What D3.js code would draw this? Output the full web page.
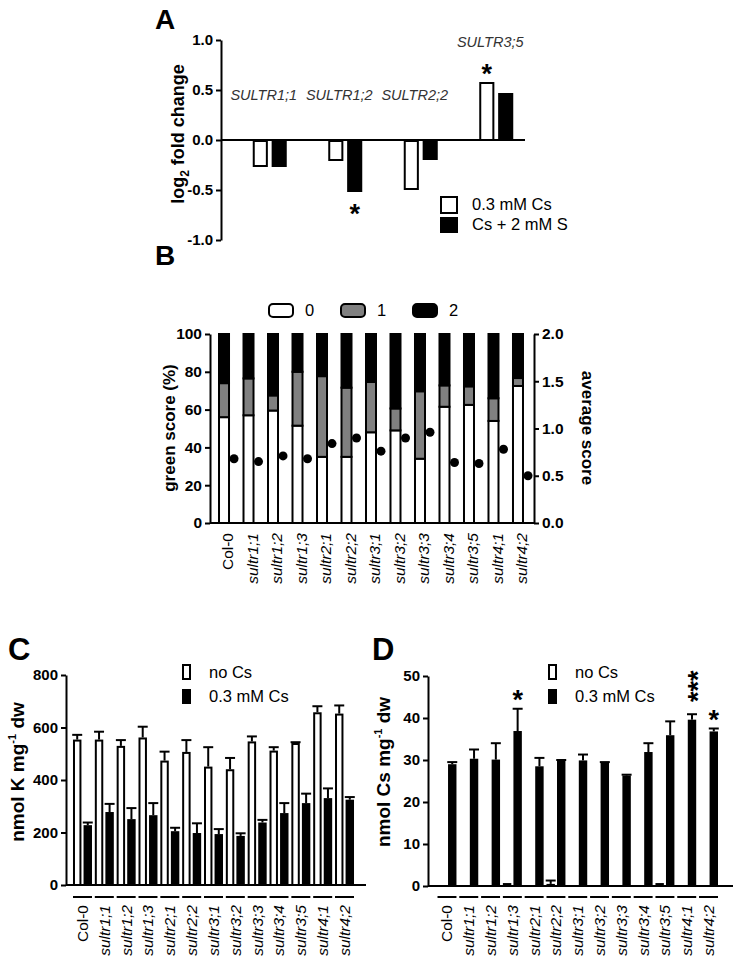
<!DOCTYPE html>
<html><head><meta charset="utf-8">
<script src="https://cdn.jsdelivr.net/npm/d3@7"></script>
<style>body{margin:0;background:#fff} svg{display:block} text{font-family:"Liberation Sans",Arial,sans-serif}</style>
</head><body><svg id="c" width="738" height="965"></svg>
<script>
// ---------- Panel A data ----------
const genesA = ["SULTR1;1", "SULTR1;2", "SULTR2;2", "SULTR3;5"];
const seriesA = ["0.3 mM Cs", "Cs + 2 mM S"];
const fcCs = [-0.26, -0.20, -0.49, 0.58];
const fcCsS = [-0.27, -0.52, -0.20, 0.47];
const sigCs = ["", "", "", "*"];
const sigCsS = ["", "*", "", ""];
const ticksA = [-1, -0.5, 0, 0.5, 1];

// ---------- Panel B data ----------
const lines = ["Col-0", "sultr1;1", "sultr1;2", "sultr1;3", "sultr2;1", "sultr2;2", "sultr3;1", "sultr3;2", "sultr3;3", "sultr3;4", "sultr3;5", "sultr4;1", "sultr4;2"];
const scoreKeys = ["0", "1", "2"];
const score0 = [56, 57, 59.5, 51.5, 35, 35, 48, 49, 34, 61.5, 62.5, 54, 72.5];
const score1 = [18, 19.5, 8, 28.5, 42.7, 36.6, 26.6, 11.6, 35.7, 11.3, 9.8, 12, 4.2];
const score2 = [26, 23.5, 32.5, 20, 22.3, 28.4, 25.4, 39.4, 30.3, 27.2, 27.7, 34, 23.3];
const avgScore = [0.68, 0.65, 0.71, 0.68, 0.84, 0.90, 0.76, 0.90, 0.96, 0.64, 0.63, 0.78, 0.50];
const ticksB = [0, 20, 40, 60, 80, 100];
const ticksB2 = [0, 0.5, 1, 1.5, 2];

// ---------- Panel C data ----------
const seriesCD = ["no Cs", "0.3 mM Cs"];
const kNoCs = [554, 554, 530, 562, 474, 507, 451, 441, 547, 512, 541, 658, 653];
const kNoCsErr = [18, 30, 22, 41, 34, 45, 74, 43, 19, 13, 3, 23, 31];
const kCs = [228, 278, 251, 266, 205, 198, 194, 187, 238, 274, 312, 331, 325];
const kCsErr = [10, 31, 42, 46, 13, 37, 19, 10, 10, 38, 36, 37, 10];
const ticksC = [0, 200, 400, 600, 800];

// ---------- Panel D data ----------
const csNoCs = [0, 0, 0, 0.7, 0, 0.5, 0, 0, 0, 0, 0.7, 0, 0];
const csNoCsErr = [0, 0, 0, 0, 0, 0.8, 0, 0, 0, 0, 0, 0, 0];
const csCs = [29, 30.3, 30.1, 36.9, 28.5, 29.8, 29.9, 29.3, 26.3, 31.9, 35.9, 39.6, 36.8];
const csCsErr = [0.5, 2.2, 3.9, 5.3, 2.0, 0.2, 1.4, 0.2, 0.2, 2.1, 3.3, 1.3, 0.7];
const sigD = ["", "", "", "*", "", "", "", "", "", "", "", "***", "*"];
const ticksD = [0, 10, 20, 30, 40, 50];

const FONT = '"Liberation Sans", Arial, sans-serif';
const svg = d3.select("#c");
svg.append("rect").attr("width", 738).attr("height", 965).attr("fill", "#fff");

function styleAxis(g, fs) {
  g.select(".domain").attr("stroke-width", 2).attr("stroke", "#000");
  g.selectAll(".tick line").attr("stroke-width", 2).attr("stroke", "#000");
  g.selectAll(".tick text").attr("font-size", fs).attr("font-weight", "bold")
    .attr("font-family", FONT).attr("fill", "#000");
}
function star(g, x, cy, txt, fs) {
  g.append("text").attr("x", x).attr("y", cy).attr("dy", "0.57em")
    .attr("text-anchor", "middle").attr("font-size", fs).attr("font-weight", "bold").text(txt);
}
function openRect(g, x, y0, y1, w) {
  const top = Math.min(y0, y1), h = Math.abs(y1 - y0);
  g.append("rect").attr("x", x + 1).attr("y", top + 1).attr("width", Math.max(0, w - 2))
    .attr("height", Math.max(0, h - 1)).attr("fill", "#fff").attr("stroke", "#000").attr("stroke-width", 2);
}
function fmt1(d) { return d.toFixed(1); }

// ================= PANEL A =================
{
  const g = svg.append("g");
  const y = d3.scaleLinear([-1, 1], [240, 40]);
  const x = d3.scaleBand(genesA, [232, 534]);
  const sub = d3.scaleBand([0, 1], [-17, 17]).paddingInner(0.2);
  const bw = sub.bandwidth();
  const ax = g.append("g").attr("transform", "translate(221,0)")
    .call(d3.axisLeft(y).tickValues(ticksA).tickFormat(fmt1).tickSize(5).tickSizeOuter(0).tickPadding(3));
  styleAxis(ax, 15);
  g.append("line").attr("x1", 221).attr("x2", 525).attr("y1", y(0)).attr("y2", y(0))
    .attr("stroke", "#000").attr("stroke-width", 2);
  genesA.forEach((gene, i) => {
    const c = x(gene) + x.bandwidth() / 2;
    const xo = c + sub(0);
    openRect(g, xo, y(0), y(fcCs[i]), bw);
    const xb = c + sub(1);
    g.append("rect").attr("x", xb).attr("width", bw)
      .attr("y", Math.min(y(0), y(fcCsS[i]))).attr("height", Math.abs(y(fcCsS[i]) - y(0))).attr("fill", "#000");
    if (sigCs[i]) {
      const v = fcCs[i];
      star(g, xo + bw / 2, v > 0 ? y(v) - 14 : y(v) + 16, sigCs[i], 27);
    }
    if (sigCsS[i]) {
      const v = fcCsS[i];
      star(g, xb + bw / 2, v > 0 ? y(v) - 14 : y(v) + 16, sigCsS[i], 27);
    }
    const pos = Math.max(fcCs[i], fcCsS[i]) > 0;
    g.append("text").attr("x", c - 6).attr("y", pos ? y(0.93) : y(0.4))
      .attr("text-anchor", "middle").attr("font-size", 14.5).attr("font-style", "italic")
      .attr("fill", "#333").text(gene);
  });
  g.append("text").attr("transform", "translate(184,134) rotate(-90)")
    .attr("text-anchor", "middle").attr("font-size", 18).attr("font-weight", "bold")
    .call(t => {
      t.append("tspan").text("log");
      t.append("tspan").attr("font-size", 12).attr("dy", 5).text("2");
      t.append("tspan").attr("dy", -5).text(" fold change");
    });
  const lg = g.append("g");
  seriesA.forEach((s, i) => {
    const yy = 197 + i * 20;
    if (i === 0) openRect(lg, 440, yy + 16, yy - 1, 18);
    else lg.append("rect").attr("x", 440).attr("y", yy).attr("width", 18).attr("height", 16).attr("fill", "#000");
    lg.append("text").attr("x", 472).attr("y", yy + 13).attr("font-size", 16.5).text(s);
  });
  g.append("text").attr("x", 155).attr("y", 29).attr("font-size", 28).attr("font-weight", "bold").text("A");
}

// ================= PANEL B =================
{
  const g = svg.append("g");
  const y = d3.scaleLinear([0, 100], [523, 334]);
  const y2 = d3.scaleLinear([0, 2], [523, 334]);
  const x = d3.scaleBand(lines, [210, 532]).paddingInner(0.51).paddingOuter(0.327);
  const bw = x.bandwidth();
  const rows = lines.map((l, i) => ({ line: l, "0": score0[i], "1": score1[i], "2": score2[i] }));
  const stack = d3.stack().keys(scoreKeys)(rows);
  const fills = { "0": "#fff", "1": "#808080", "2": "#000" };
  lines.forEach((l, i) => {
    g.append("circle").attr("cx", x(l) + bw + 4).attr("cy", y2(avgScore[i])).attr("r", 4.5).attr("fill", "#000");
  });
  stack.forEach(layer => {
    layer.forEach((d, i) => {
      const top = y(d[1]), bot = y(d[0]);
      g.append("rect").attr("x", x(lines[i]) + 1).attr("y", top).attr("width", bw - 2)
        .attr("height", Math.max(0, bot - top))
        .attr("fill", fills[layer.key]).attr("stroke", "#000").attr("stroke-width", 2);
    });
  });
  const al = g.append("g").attr("transform", "translate(210,0)")
    .call(d3.axisLeft(y).tickValues(ticksB).tickSize(5).tickSizeOuter(0).tickPadding(3));
  styleAxis(al, 15.5);
  const ar = g.append("g").attr("transform", "translate(534,0)")
    .call(d3.axisRight(y2).tickValues(ticksB2).tickFormat(fmt1).tickSize(5).tickSizeOuter(0).tickPadding(3));
  styleAxis(ar, 15.5);
  g.append("line").attr("x1", 210).attr("x2", 534).attr("y1", 523).attr("y2", 523).attr("stroke", "#000").attr("stroke-width", 2);
  lines.forEach(l => {
    g.append("text").attr("transform", `translate(${x(l) + bw / 2 + 4},533) rotate(-90)`)
      .attr("dy", "0.35em").attr("text-anchor", "end").attr("font-size", 15.5)
      .attr("font-style", l.startsWith("sultr") ? "italic" : "normal").text(l);
  });
  g.append("text").attr("transform", "translate(175,428) rotate(-90)").attr("text-anchor", "middle")
    .attr("font-size", 17).attr("font-weight", "bold").text("green score (%)");
  g.append("text").attr("transform", "translate(582,428) rotate(90)").attr("text-anchor", "middle")
    .attr("font-size", 17).attr("font-weight", "bold").text("average score");
  scoreKeys.forEach((k, i) => {
    const lx = 268 + i * 72;
    g.append("rect").attr("x", lx + 1).attr("y", 304).attr("width", 24).attr("height", 13).attr("rx", 4)
      .attr("fill", fills[k]).attr("stroke", "#000").attr("stroke-width", 2);
    g.append("text").attr("x", lx + 37).attr("y", 316).attr("font-size", 16.5).text(k);
  });
  g.append("text").attr("x", 155).attr("y", 265).attr("font-size", 28).attr("font-weight", "bold").text("B");
}

// ================= PANELS C & D =================
function groupedPanel(opt) {
  const g = svg.append("g");
  const y = d3.scaleLinear([0, opt.max], [opt.y0, opt.y1]);
  const x = d3.scaleBand(lines, [opt.ax, opt.xr]).paddingInner(0.13).paddingOuter(opt.po);
  const sub = d3.scaleBand([0, 1], [0, x.bandwidth()]).paddingInner(0.2);
  const bw = sub.bandwidth();
  lines.forEach((l, i) => {
    const xo = x(l) + sub(0), xb = x(l) + sub(1);
    [[xo, opt.a[i], opt.ae[i]], [xb, opt.b[i], opt.be[i]]].forEach(([xx, v, e]) => {
      if (e > 0) {
        const cx = xx + bw / 2;
        g.append("line").attr("x1", cx).attr("x2", cx).attr("y1", y(v)).attr("y2", y(v + e)).attr("stroke", "#000").attr("stroke-width", 2);
        g.append("line").attr("x1", cx - 5).attr("x2", cx + 5).attr("y1", y(v + e)).attr("y2", y(v + e)).attr("stroke", "#000").attr("stroke-width", 2);
      }
    });
    if (opt.a[i] > 0) openRect(g, xo, y(0), y(opt.a[i]), bw);
    g.append("rect").attr("x", xb).attr("width", bw).attr("y", y(opt.b[i])).attr("height", y(0) - y(opt.b[i])).attr("fill", "#000");
    if (opt.sig && opt.sig[i]) {
      const top = y(opt.b[i] + opt.be[i]);
      const s = opt.sig[i];
      if (s.length === 1) star(g, xb + bw / 2, top - 15, s, 27);
      else g.append("text").attr("transform", `translate(${xb + bw / 2},${top - 28}) rotate(-90)`)
        .attr("dy", "0.57em").attr("text-anchor", "middle").attr("font-size", 27).attr("font-weight", "bold").text(s);
    }
    g.append("line").attr("x1", x(l)).attr("x2", x(l) + x.bandwidth()).attr("y1", 897).attr("y2", 897).attr("stroke", "#000").attr("stroke-width", 2);
    g.append("text").attr("transform", `translate(${x(l) + x.bandwidth() / 2},905) rotate(-90)`)
      .attr("dy", "0.35em").attr("text-anchor", "end").attr("font-size", 15.5)
      .attr("font-style", l.startsWith("sultr") ? "italic" : "normal").text(l);
  });
  const al = g.append("g").attr("transform", `translate(${opt.ax},0)`)
    .call(d3.axisLeft(y).tickValues(opt.ticks).tickSize(5).tickSizeOuter(0).tickPadding(3));
  styleAxis(al, 15);
  g.append("line").attr("x1", opt.ax).attr("x2", opt.xend).attr("y1", y(0)).attr("y2", y(0)).attr("stroke", "#000").attr("stroke-width", 2);
  g.append("text").attr("transform", `translate(${opt.lx},772) rotate(-90)`).attr("text-anchor", "middle")
    .attr("font-size", 19).attr("font-weight", "bold")
    .call(t => {
      t.append("tspan").text(opt.unit + " mg");
      t.append("tspan").attr("font-size", 11).attr("dy", -8).text("-1");
      t.append("tspan").attr("dy", 8).text(" dw");
    });
  seriesCD.forEach((s, i) => {
    const yy = opt.legY + i * 24;
    if (i === 0) openRect(g, opt.legX, yy + 14, yy - 1, 9);
    else g.append("rect").attr("x", opt.legX).attr("y", yy).attr("width", 9).attr("height", 15).attr("fill", "#000");
    g.append("text").attr("x", opt.legX + 27).attr("y", yy + 13).attr("font-size", 16.5).text(s);
  });
  g.append("text").attr("x", opt.px).attr("y", 660).attr("font-size", 31).attr("font-weight", "bold").text(opt.letter);
}

groupedPanel({ max: 800, y0: 885, y1: 675, ax: 66, xr: 361, po: 0.32, xend: 366, a: kNoCs, ae: kNoCsErr, b: kCs, be: kCsErr,
  ticks: ticksC, unit: "nmol K", lx: 24, legX: 182, legY: 665, letter: "C", px: 8 });
groupedPanel({ max: 50, y0: 886, y1: 676, ax: 428, xr: 727.5, po: 0.436, xend: 733, a: csNoCs, ae: csNoCsErr, b: csCs, be: csCsErr,
  ticks: ticksD, unit: "nmol Cs", lx: 390, legX: 548, legY: 665, letter: "D", px: 372, sig: sigD });
</script>
</body></html>
